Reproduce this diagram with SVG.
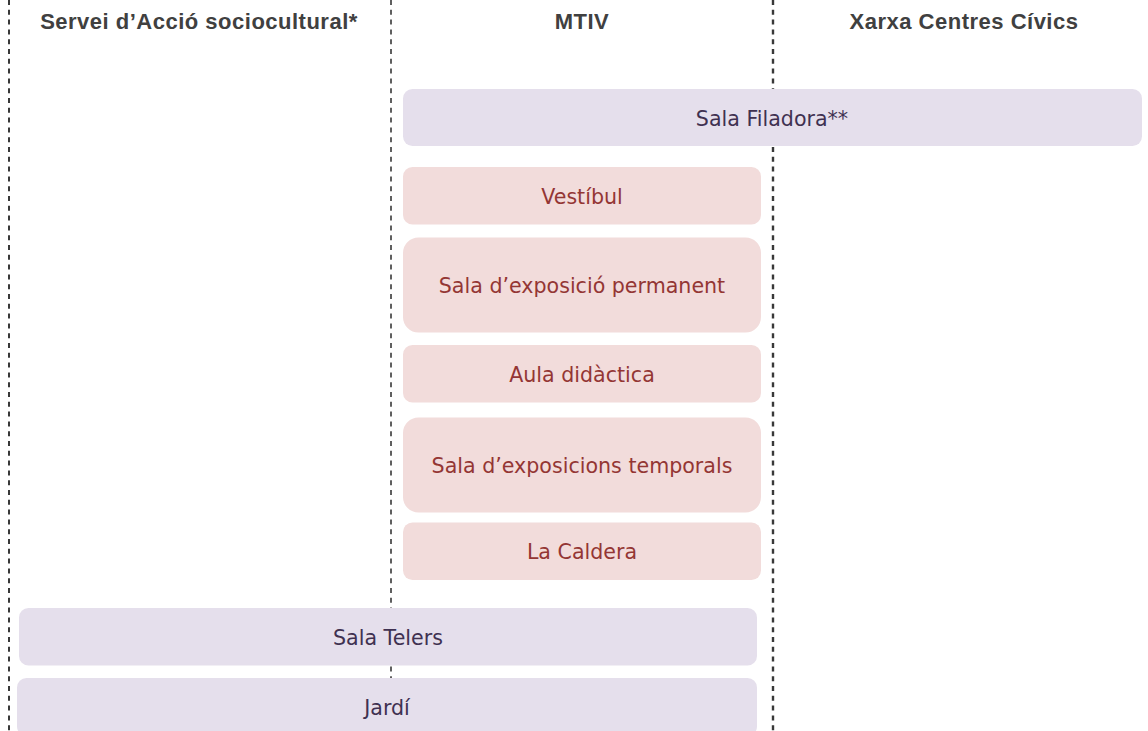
<svg xmlns="http://www.w3.org/2000/svg" width="1148" height="731" viewBox="0 0 1148 731">
<style>
.hdr{font-family:"Liberation Sans",Arial,sans-serif;font-weight:bold;font-size:22px;letter-spacing:0.5px;fill:#404040;text-anchor:middle}
.div{stroke:#383838;stroke-dasharray:5 4.8;fill:none}
.lav rect{fill:#e5dfec}
.lav text{fill:#3f3151}
.pnk rect{fill:#f2dcdb}
.pnk text{fill:#943634}
.node text{font-family:"DejaVu Sans",Verdana,sans-serif;font-size:20.6px;text-anchor:middle}
</style>
<rect width="1148" height="731" fill="#ffffff"/>
<g id="dividers">
<line class="div" x1="9" y1="0" x2="9" y2="731" stroke-width="2"/>
<line class="div" x1="391" y1="0" x2="391" y2="680" stroke-width="1.6"/>
<line class="div" x1="773" y1="0" x2="773" y2="731" stroke-width="2.4"/>
</g>
<g id="headers">
<text class="hdr" x="199" y="29">Servei d’Acció sociocultural*</text>
<text class="hdr" x="582" y="29">MTIV</text>
<text class="hdr" x="964" y="29">Xarxa Centres Cívics</text>
</g>
<g id="sala-filadora" class="node lav"><rect x="403" y="89" width="739" height="57" rx="9.5"/><text x="772" y="125.5">Sala Filadora**</text></g>
<g id="vestibul" class="node pnk"><rect x="403" y="167" width="358" height="57.5" rx="9.5"/><text x="582" y="203.5">Vestíbul</text></g>
<g id="sala-permanent" class="node pnk"><rect x="403" y="237.5" width="358" height="95" rx="15.5"/><text x="582" y="293">Sala d’exposició permanent</text></g>
<g id="aula" class="node pnk"><rect x="403" y="345" width="358" height="57.5" rx="9.5"/><text x="582" y="382">Aula didàctica</text></g>
<g id="sala-temporals" class="node pnk"><rect x="403" y="417.5" width="358" height="95" rx="15.5"/><text x="582" y="473">Sala d’exposicions temporals</text></g>
<g id="la-caldera" class="node pnk"><rect x="403" y="522.5" width="358" height="57.5" rx="9.5"/><text x="582" y="559">La Caldera</text></g>
<g id="sala-telers" class="node lav"><rect x="19" y="608" width="738" height="57.5" rx="9.5"/><text x="388" y="644.5">Sala Telers</text></g>
<g id="jardi" class="node lav"><rect x="17" y="678" width="740" height="58" rx="9.5"/><text x="387" y="715">Jardí</text></g>
</svg>
